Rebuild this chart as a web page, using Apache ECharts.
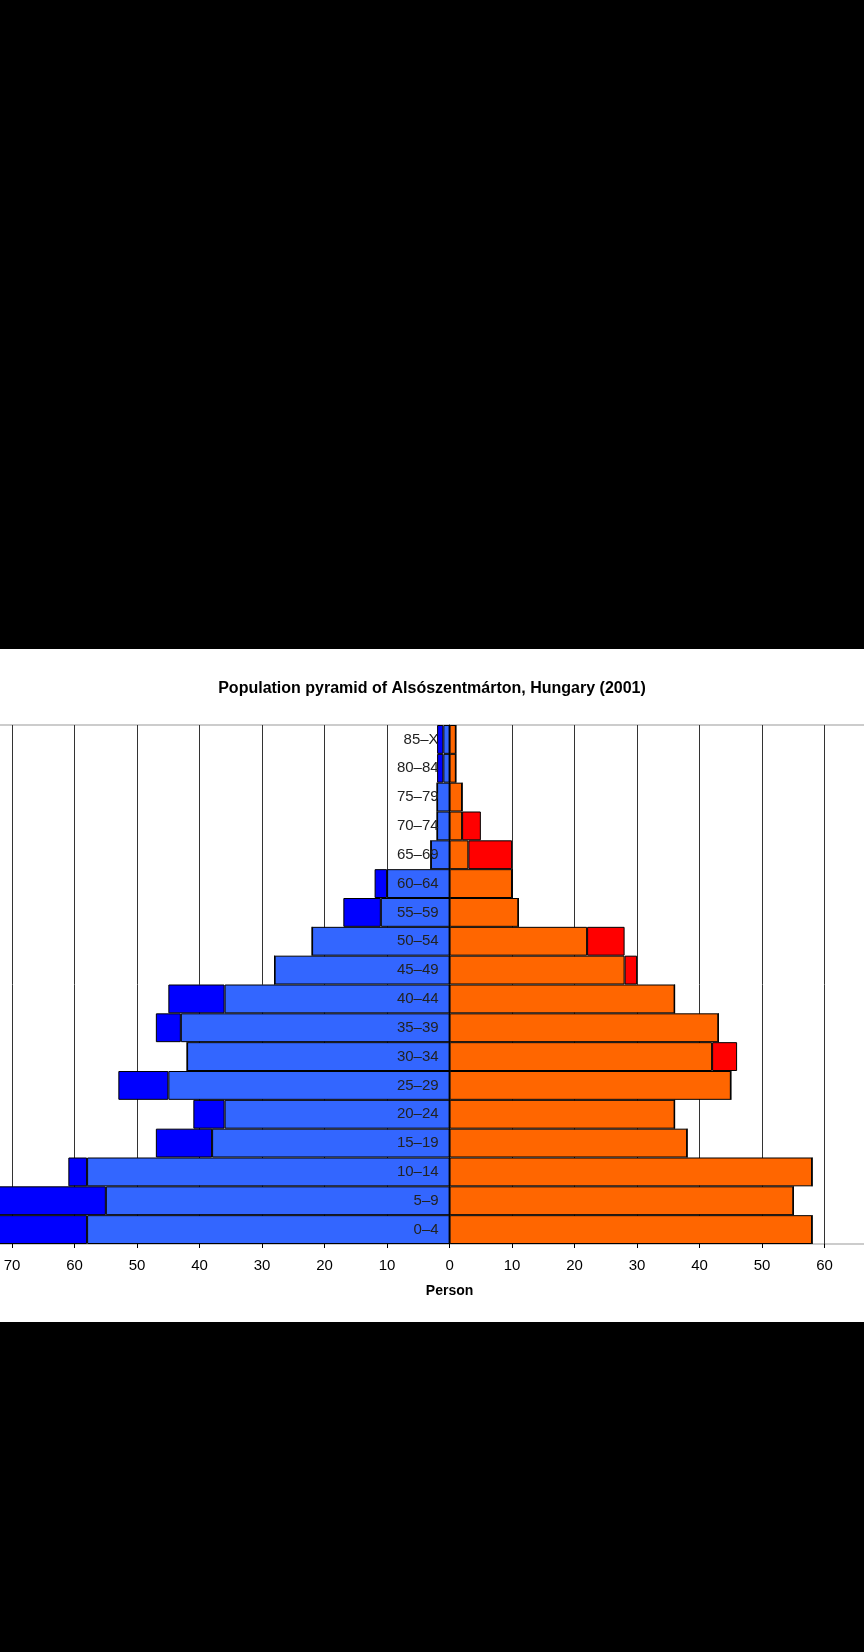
<!DOCTYPE html>
<html>
<head>
<meta charset="utf-8">
<script src="https://cdn.jsdelivr.net/npm/echarts@6/dist/echarts.min.js"></script>
<style>
  html, body { margin: 0; padding: 0; background: #000; }
  #chart { position: absolute; left: 0; top: 649px; width: 864px; height: 673px; background: #fff; }
</style>
</head>
<body>
<div id="chart"></div>
<script>
// age groups, bottom to top
var ageGroups = ['0–4', '5–9', '10–14', '15–19', '20–24', '25–29', '30–34', '35–39', '40–44',
                 '45–49', '50–54', '55–59', '60–64', '65–69', '70–74', '75–79', '80–84', '85–X'];
// persons per age group
var males   = [76, 74, 61, 47, 41, 53, 42, 47, 45, 28, 22, 17, 12, 3, 2, 2, 2, 2];
var females = [58, 55, 58, 38, 36, 45, 46, 43, 36, 30, 28, 11, 10, 10, 5, 2, 1, 1];
var xTicks = [-80, -70, -60, -50, -40, -30, -20, -10, 0, 10, 20, 30, 40, 50, 60, 70, 80];

// common part in light colour, surplus of one sex in dark colour
var common = males.map(function (m, i) { return Math.min(m, females[i]); });
var maleBase = common.map(function (c) { return -c; });
var maleExtra = males.map(function (m, i) { return -(m - common[i]); });
var femaleBase = common.slice();
var femaleExtra = females.map(function (f, i) { return f - common[i]; });

// plot area runs past both edges of the picture
var GRID_LEFT = -50.4, GRID_RIGHT = -85.6;
var plotWidth = 864 - GRID_LEFT - GRID_RIGHT;
var xMin = xTicks[0], xMax = xTicks[xTicks.length - 1];
var zeroOffset = (0 - xMin) / (xMax - xMin) * plotWidth;

var chart = echarts.init(document.getElementById('chart'));

function barSeries(name, color, data) {
    return {
        name: name,
        type: 'bar',
        stack: 'pyramid',
        barCategoryGap: '0%',
        itemStyle: { color: color, borderColor: '#000', borderWidth: 1 },
        data: data
    };
}

chart.setOption({
    backgroundColor: '#fff',
    animation: false,
    title: {
        text: 'Population pyramid of Alsószentmárton, Hungary (2001)',
        left: 'center',
        top: 27,
        textStyle: { fontFamily: 'Liberation Sans', fontSize: 16, fontWeight: 'bold', color: '#000' }
    },
    grid: {
        left: GRID_LEFT,
        right: GRID_RIGHT,
        top: 76,
        bottom: 78,
        containLabel: false,
        outerBoundsMode: 'none',
        show: true,
        borderColor: '#999',
        borderWidth: 1
    },
    xAxis: {
        type: 'value',
        min: xMin,
        max: xMax,
        interval: 10,
        name: 'Person',
        nameLocation: 'middle',
        nameGap: 40,
        nameTextStyle: { fontFamily: 'Liberation Sans', fontSize: 14, fontWeight: 'bold', color: '#000' },
        axisLine: { lineStyle: { color: '#000', width: 1 } },
        axisTick: { show: true, length: 4, lineStyle: { color: '#000' } },
        axisLabel: {
            margin: 14,
            fontFamily: 'Liberation Sans',
            fontSize: 15,
            color: '#000',
            formatter: function (v) { return Math.abs(v); }
        },
        splitLine: { show: true, lineStyle: { color: '#333', width: 1 } }
    },
    yAxis: {
        type: 'category',
        data: ageGroups,
        position: 'left',
        offset: -zeroOffset,
        z: 10,
        axisLine: { onZero: false, lineStyle: { color: '#000' } },
        axisTick: { show: false },
        axisLabel: {
            margin: 11,
            fontFamily: 'Liberation Sans',
            fontSize: 15,
            color: '#222'
        }
    },
    series: [
        barSeries('Male', '#3366ff', maleBase),
        barSeries('Male surplus', '#0000ff', maleExtra),
        barSeries('Female', '#ff6600', femaleBase),
        barSeries('Female surplus', '#ff0000', femaleExtra)
    ]
});
</script>
</body>
</html>
